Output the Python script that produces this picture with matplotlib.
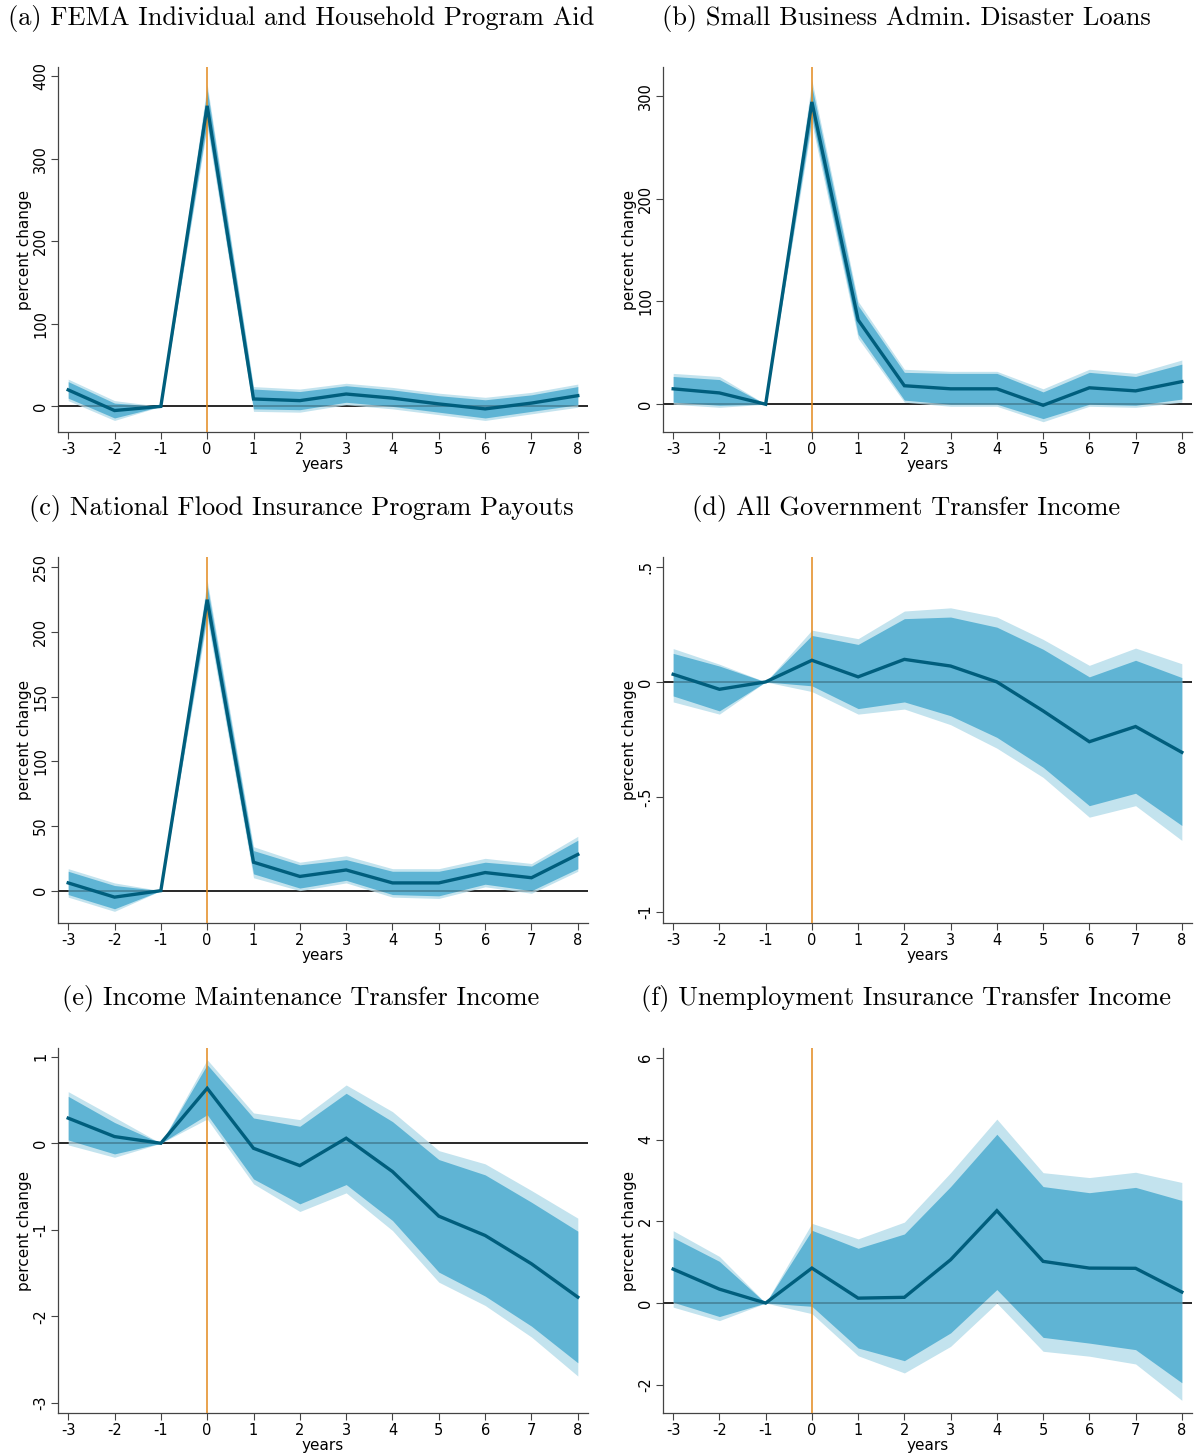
import numpy as np
import matplotlib
matplotlib.use("Agg")
import matplotlib.pyplot as plt

plt.rcParams['axes.unicode_minus'] = False

years = [-3, -2, -1, 0, 1, 2, 3, 4, 5, 6, 7, 8]

titles = [
    "(a) FEMA Individual and Household Program Aid",
    "(b) Small Business Admin. Disaster Loans",
    "(c) National Flood Insurance Program Payouts",
    "(d) All Government Transfer Income",
    "(e) Income Maintenance Transfer Income",
    "(f) Unemployment Insurance Transfer Income",
]

# (a) FEMA aid
a_mean = [20, -5, 0, 364, 9, 7, 15, 10, 3, -3, 4, 13]
a_in_lo = [10, -14, 0, 344, -3, -4, 5, 0, -7, -14, -6, 2]
a_in_hi = [30, 4, 0, 384, 21, 18, 25, 20, 13, 8, 14, 24]
a_out_lo = [7, -17, 0, 338, -6, -7, 2, -3, -10, -17, -9, -1]
a_out_hi = [33, 7, 0, 390, 24, 21, 28, 23, 16, 11, 17, 27]

# (b) SBA loans
b_mean = [15, 11, 0, 294, 82, 18, 15, 15, -1, 16, 13, 22]
b_in_lo = [2, -1, 0, 279, 68, 4, 0, 0, -14, 0, -1, 5]
b_in_hi = [27, 24, 0, 309, 96, 31, 30, 30, 12, 31, 27, 39]
b_out_lo = [0, -3, 0, 273, 64, 2, -2, -2, -17, -2, -3, 2]
b_out_hi = [30, 27, 0, 315, 100, 34, 32, 32, 15, 34, 30, 43]

# (c) NFIP payouts
c_mean = [6, -5, 0, 225, 22, 11, 16, 6, 6, 14, 10, 28]
c_in_lo = [-3, -14, 0, 214, 13, 2, 8, -3, -4, 5, 0, 17]
c_in_hi = [15, 4, 0, 236, 31, 20, 24, 15, 15, 22, 19, 39]
c_out_lo = [-5, -16, 0, 210, 10, 0, 6, -5, -6, 3, -2, 15]
c_out_hi = [17, 6, 0, 240, 34, 22, 27, 17, 17, 25, 21, 42]

# (d) All government transfers
d_mean = [0.033, -0.032, 0, 0.094, 0.022, 0.098, 0.069, 0.0, -0.126, -0.26, -0.194, -0.306]
d_in_lo = [-0.061, -0.126, 0, -0.017, -0.116, -0.087, -0.147, -0.241, -0.371, -0.538, -0.484, -0.624]
d_in_hi = [0.124, 0.069, 0, 0.202, 0.163, 0.275, 0.282, 0.238, 0.142, 0.022, 0.094, 0.019]
d_out_lo = [-0.087, -0.14, 0, -0.042, -0.14, -0.118, -0.186, -0.288, -0.415, -0.588, -0.538, -0.689]
d_out_hi = [0.145, 0.077, 0, 0.225, 0.188, 0.308, 0.322, 0.282, 0.185, 0.072, 0.147, 0.079]

# (e) Income maintenance
e_mean = [0.29, 0.077, 0, 0.635, -0.058, -0.258, 0.058, -0.327, -0.842, -1.065, -1.392, -1.777]
e_in_lo = [0.038, -0.123, 0, 0.33, -0.412, -0.7, -0.477, -0.892, -1.488, -1.765, -2.112, -2.535]
e_in_hi = [0.542, 0.24, 0, 0.908, 0.292, 0.196, 0.577, 0.25, -0.188, -0.365, -0.681, -1.015]
e_out_lo = [-0.019, -0.162, 0, 0.28, -0.469, -0.788, -0.573, -1.008, -1.604, -1.873, -2.238, -2.688]
e_out_hi = [0.596, 0.3, 0, 0.965, 0.35, 0.273, 0.673, 0.365, -0.085, -0.238, -0.546, -0.865]

# (f) Unemployment insurance
f_mean = [0.83, 0.34, 0, 0.855, 0.12, 0.14, 1.06, 2.26, 1.02, 0.855, 0.85, 0.27]
f_in_lo = [0.02, -0.33, 0, -0.08, -1.1, -1.41, -0.73, 0.33, -0.84, -0.98, -1.14, -1.95]
f_in_hi = [1.6, 1.02, 0, 1.78, 1.34, 1.69, 2.85, 4.13, 2.85, 2.7, 2.83, 2.51]
f_out_lo = [-0.1, -0.43, 0, -0.26, -1.29, -1.71, -1.06, 0.0, -1.18, -1.3, -1.49, -2.38]
f_out_hi = [1.77, 1.14, 0, 1.95, 1.57, 1.98, 3.19, 4.5, 3.19, 3.07, 3.2, 2.95]

yticks = [
    ([0, 100, 200, 300, 400], ["0", "100", "200", "300", "400"]),
    ([0, 100, 200, 300], ["0", "100", "200", "300"]),
    ([0, 50, 100, 150, 200, 250], ["0", "50", "100", "150", "200", "250"]),
    ([-1, -0.5, 0, 0.5], ["-1", "-.5", "0", ".5"]),
    ([-3, -2, -1, 0, 1], ["-3", "-2", "-1", "0", "1"]),
    ([-2, 0, 2, 4, 6], ["-2", "0", "2", "4", "6"]),
]
ylims = [(-31, 411), (-27, 328), (-25, 258), (-1.048, 0.543), (-3.115, 1.1), (-2.69, 6.24)]

series = [
    (a_mean, a_in_lo, a_in_hi, a_out_lo, a_out_hi),
    (b_mean, b_in_lo, b_in_hi, b_out_lo, b_out_hi),
    (c_mean, c_in_lo, c_in_hi, c_out_lo, c_out_hi),
    (d_mean, d_in_lo, d_in_hi, d_out_lo, d_out_hi),
    (e_mean, e_in_lo, e_in_hi, e_out_lo, e_out_hi),
    (f_mean, f_in_lo, f_in_hi, f_out_lo, f_out_hi),
]

W, H = 1196, 1454
fig = plt.figure(figsize=(W / 100, H / 100), dpi=100)

col_x = [58, 663]
col_w = [530, 529]
row_top = [67, 557, 1048]
row_bot = [432, 923, 1413]
title_x = [301, 906]
title_y = [18, 508, 999]

line_col = "#005e7d"
inner_col = "#5fb4d4"
outer_col = "#c3e3ee"
orange = "#e3891c"

for i in range(6):
    r, c = divmod(i, 2)
    ax = fig.add_axes([col_x[c] / W, 1 - row_bot[r] / H, col_w[c] / W, (row_bot[r] - row_top[r]) / H])
    mean, in_lo, in_hi, out_lo, out_hi = series[i]
    ax.axhline(0, color="black", lw=1.1, zorder=0)
    ax.fill_between(years, out_lo, out_hi, color=outer_col, lw=0, zorder=1)
    ax.fill_between(years, in_lo, in_hi, color=inner_col, lw=0, zorder=2)
    ax.axhline(0, color="black", lw=1.1, alpha=0.3, zorder=3)
    ax.axvline(0, color=orange, lw=1.1, zorder=4)
    ax.plot(years, mean, color=line_col, lw=2.4, zorder=5, solid_joinstyle="miter")
    ax.set_xlim(-3.22, 8.22)
    ax.set_ylim(*ylims[i])
    ax.set_xticks(years)
    ax.set_xticklabels([str(y) for y in years])
    ax.set_yticks(yticks[i][0])
    ax.set_yticklabels(yticks[i][1], rotation=90, va="center")
    ax.tick_params(labelsize=10.5, length=5, width=0.8, color="#444444", pad=2)
    ax.set_xlabel("years", fontsize=11, labelpad=0)
    ax.set_ylabel("percent change", fontsize=11, labelpad=1)
    for s in ["top", "right"]:
        ax.spines[s].set_visible(False)
    for s in ["left", "bottom"]:
        ax.spines[s].set_color("#444444")
        ax.spines[s].set_linewidth(0.9)
    fig.text(title_x[c] / W, 1 - title_y[r] / H, titles[i], ha="center", va="center",
             fontfamily="cmr10", fontsize=19)

fig.savefig("out.png", dpi=100)
